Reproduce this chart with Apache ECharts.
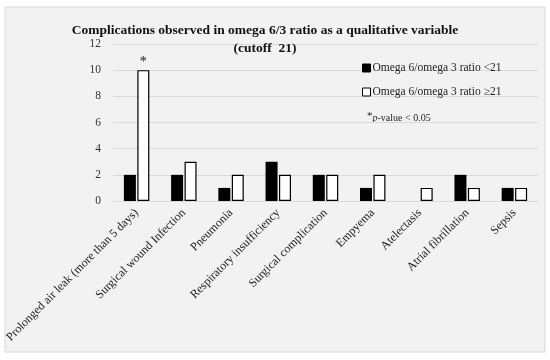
<!DOCTYPE html>
<html><head><meta charset="utf-8">
<script src="https://cdn.jsdelivr.net/npm/echarts@6/dist/echarts.min.js"></script>
<style>html,body{margin:0;padding:0;background:#fff}#c{width:550px;height:360px}</style>
</head><body><div id="c"></div>
<script>
const categories = ["Prolonged air leak (more than 5 days)","Surgical wound Infection","Pneumonia","Respiratory insufficiency","Surgical complication","Empyema","Atelectasis","Atrial fibrillation","Sepsis"];
const seriesLow = [2,2,1,3,2,1,0,2,1];
const seriesHigh = [10,3,2,2,2,2,1,1,1];
const seriesNames = ["Omega 6/omega 3 ratio <21","Omega 6/omega 3 ratio \u226521"];
const yTicks = {min:0,max:12,interval:2};
const FONT = '"Liberation Serif", "DejaVu Serif", serif';

const chart = echarts.init(document.getElementById('c'));
chart.setOption({
  animation:false,
  textStyle:{fontFamily:FONT,color:'#222'},
  graphic:[
    {type:'rect',z:-10,shape:{x:5,y:7,width:540,height:345},style:{fill:'#f2f2f2',stroke:'#d9d9d9',lineWidth:1},silent:true},
    {type:'text',left:367,top:111,style:{rich:{s:{fontSize:11,fontFamily:FONT,fill:'#222',verticalAlign:'top',padding:[0,0,4,0]},i:{fontSize:10,fontStyle:'italic',fontFamily:FONT,fill:'#222'},n:{fontSize:10,fontFamily:FONT,fill:'#222'}},text:'{s|*}{i|p}{n|-value < 0.05}'}}
  ],
  title:{text:'Complications observed in omega 6/3 ratio as a qualitative variable\n(cutoff  21)',left:260,textAlign:'center',top:17,textStyle:{fontFamily:FONT,fontSize:13.5,fontWeight:'bold',color:'#111',lineHeight:18}},
  legend:{orient:'vertical',left:357,top:57,itemWidth:8,itemHeight:8,itemGap:12,icon:'rect',textStyle:{fontFamily:FONT,fontSize:11.5,color:'#222',padding:[0,0,0,-3]},
    data:[{name:seriesNames[0],itemStyle:{color:'#000',borderColor:'#000',borderWidth:1}},{name:seriesNames[1],itemStyle:{color:'#fff',borderColor:'#000',borderWidth:1}}]},
  grid:{left:113,right:12,top:44,bottom:159},
  xAxis:{type:'category',data:categories,axisTick:{show:false},axisLine:{lineStyle:{color:'#d9d9d9'}},
    axisLabel:{rotate:45,interval:0,margin:10,fontFamily:FONT,fontSize:12,color:'#222'}},
  yAxis:{type:'value',min:yTicks.min,max:yTicks.max,interval:yTicks.interval,axisLine:{show:false},axisTick:{show:false},
    splitLine:{lineStyle:{color:'#d9d9d9'}},axisLabel:{margin:12,fontFamily:FONT,fontSize:11.5,color:'#333'}},
  series:[
    {name:seriesNames[0],type:'bar',data:seriesLow,barWidth:12,barGap:'12%',itemStyle:{color:'#000',borderWidth:0}},
    {name:seriesNames[1],type:'bar',data:seriesHigh.map((v,i)=>i===0?{value:v,label:{show:true,position:'top',formatter:'*',fontSize:14,color:'#111',distance:1}}:v),barWidth:12,itemStyle:{color:'#fff',borderColor:'#000',borderWidth:1.2}}
  ]
});
</script></body></html>
